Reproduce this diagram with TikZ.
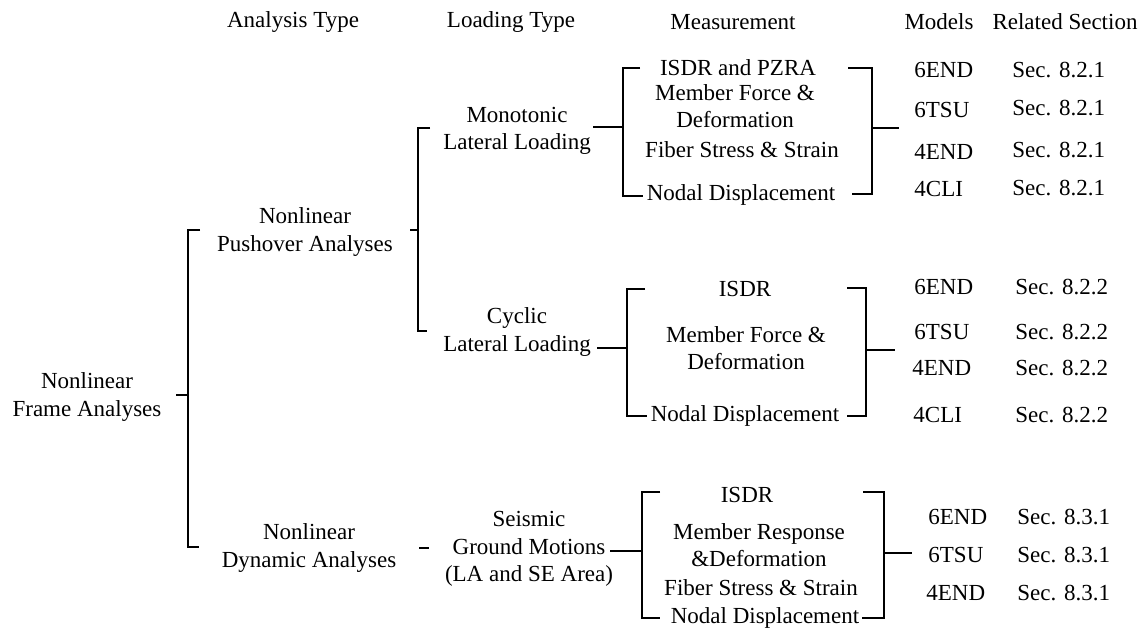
\documentclass[tikz,border=0pt]{standalone}
\usepackage{fontspec}
\setmainfont{Liberation Serif}
\tikzset{
  lbl/.style={align=center, inner sep=0pt, font=\fontsize{11.5}{13.8}\selectfont},
  hdr/.style={lbl},
  mdl/.style={lbl, anchor=west},
  brk/.style={line width=1pt},
}

\begin{document}
\begin{tikzpicture}[x=0.5pt, y=-0.5pt]
  \useasboundingbox (0,0) rectangle (1145,631);

  % Column headers
  \node[hdr] (hana)  at (293,22)  {Analysis Type};
  \node[hdr] (hload) at (511,22)  {Loading Type};
  \node[hdr] (hmeas) at (733,22)  {Measurement};
  \node[hdr] (hmod)  at (939,22)  {Models};
  \node[hdr] (hsec)  at (1065,22) {Related Section};

  % Analysis tree
  \node[lbl] (root) at (87,397)  {Nonlinear\\Frame Analyses};
  \node[lbl] (push) at (305,232) {Nonlinear\\Pushover Analyses};
  \node[lbl] (dyn)  at (309,548) {Nonlinear\\Dynamic Analyses};

  % Loading types
  \node[lbl] (mono) at (517,131) {Monotonic\\Lateral Loading};
  \node[lbl] (cyc)  at (517,332) {Cyclic\\Lateral Loading};
  \node[lbl] (seis) at (529,549) {Seismic\\Ground Motions\\(LA and SE Area)};

  % Measurements, monotonic
  \node[lbl] (ma1) at (738,68)  {ISDR and PZRA};
  \node[lbl] (ma2) at (735,106) {Member Force \&\\Deformation};
  \node[lbl] (ma3) at (742,150) {Fiber Stress \& Strain};
  \node[lbl] (ma4) at (741,195) {Nodal Displacement};

  % Measurements, cyclic
  \node[lbl] (mb1) at (745,289) {ISDR};
  \node[lbl] (mb2) at (746,348) {Member Force \&\\Deformation};
  \node[lbl] (mb3) at (745,416) {Nodal Displacement};

  % Measurements, seismic
  \node[lbl] (mc1) at (747,495) {ISDR};
  \node[lbl] (mc2) at (759,545) {Member Response\\\&Deformation};
  \node[lbl] (mc3) at (761,588) {Fiber Stress \& Strain};
  \node[lbl] (mc4) at (765,618) {Nodal Displacement};

  % Models and sections
  \node[mdl] (oa1) at (914,70)  {6END};  \node[mdl] (sa1) at (1012,70)  {Sec. 8.2.1};
  \node[mdl] (oa2) at (914,110) {6TSU};  \node[mdl] (sa2) at (1012,108) {Sec. 8.2.1};
  \node[mdl] (oa3) at (914,152) {4END};  \node[mdl] (sa3) at (1012,150) {Sec. 8.2.1};
  \node[mdl] (oa4) at (914,189) {4CLI};  \node[mdl] (sa4) at (1012,188) {Sec. 8.2.1};

  \node[mdl] (ob1) at (914,287) {6END};  \node[mdl] (sb1) at (1015,287) {Sec. 8.2.2};
  \node[mdl] (ob2) at (914,332) {6TSU};  \node[mdl] (sb2) at (1015,332) {Sec. 8.2.2};
  \node[mdl] (ob3) at (912,368) {4END};  \node[mdl] (sb3) at (1015,368) {Sec. 8.2.2};
  \node[mdl] (ob4) at (913,415) {4CLI};  \node[mdl] (sb4) at (1015,415) {Sec. 8.2.2};

  \node[mdl] (oc1) at (928,517) {6END};  \node[mdl] (sc1) at (1017,517) {Sec. 8.3.1};
  \node[mdl] (oc2) at (928,555) {6TSU};  \node[mdl] (sc2) at (1017,555) {Sec. 8.3.1};
  \node[mdl] (oc3) at (926,593) {4END};  \node[mdl] (sc3) at (1017,593) {Sec. 8.3.1};

  % Bracket end points
  \coordinate (aM) at (176,395); \coordinate (aS) at (188,395);
  \coordinate (aT) at (200,230); \coordinate (aB) at (199,547);
  \coordinate (bM) at (410,230); \coordinate (bS) at (418,230);
  \coordinate (bT) at (430,128); \coordinate (bB) at (427,331);
  \coordinate (dL) at (419,548); \coordinate (dR) at (429,548);
  \coordinate (cM) at (593,127); \coordinate (cS) at (623,127);
  \coordinate (cT) at (640,68);  \coordinate (cB) at (643,196);
  \coordinate (eM) at (597,348); \coordinate (eS) at (627,348);
  \coordinate (eT) at (645,289); \coordinate (eB) at (647,416);
  \coordinate (gM) at (610,551); \coordinate (gS) at (642,551);
  \coordinate (gT) at (660,492); \coordinate (gB) at (660,618);
  \coordinate (rAT) at (848,68);  \coordinate (rAB) at (852,194);
  \coordinate (rAS) at (872,128); \coordinate (rAM) at (899,128);
  \coordinate (rBT) at (847,288); \coordinate (rBB) at (847,416);
  \coordinate (rBS) at (866,350); \coordinate (rBM) at (895,350);
  \coordinate (rCT) at (863,492); \coordinate (rCB) at (862,618);
  \coordinate (rCS) at (884,553); \coordinate (rCM) at (912,553);

  % Left brackets
  \draw[brk] (aM) -- (aS);  \draw[brk] (aT) -| (aS) |- (aB);
  \draw[brk] (bM) -- (bS);  \draw[brk] (bT) -| (bS) |- (bB);
  \draw[brk] (dL) -- (dR);
  \draw[brk] (cM) -- (cS);  \draw[brk] (cT) -| (cS) |- (cB);
  \draw[brk] (eM) -- (eS);  \draw[brk] (eT) -| (eS) |- (eB);
  \draw[brk] (gM) -- (gS);  \draw[brk] (gT) -| (gS) |- (gB);

  % Right brackets
  \draw[brk] (rAT) -| (rAS) |- (rAB);  \draw[brk] (rAS) -- (rAM);
  \draw[brk] (rBT) -| (rBS) |- (rBB);  \draw[brk] (rBS) -- (rBM);
  \draw[brk] (rCT) -| (rCS) |- (rCB);  \draw[brk] (rCS) -- (rCM);
\end{tikzpicture}
\end{document}
